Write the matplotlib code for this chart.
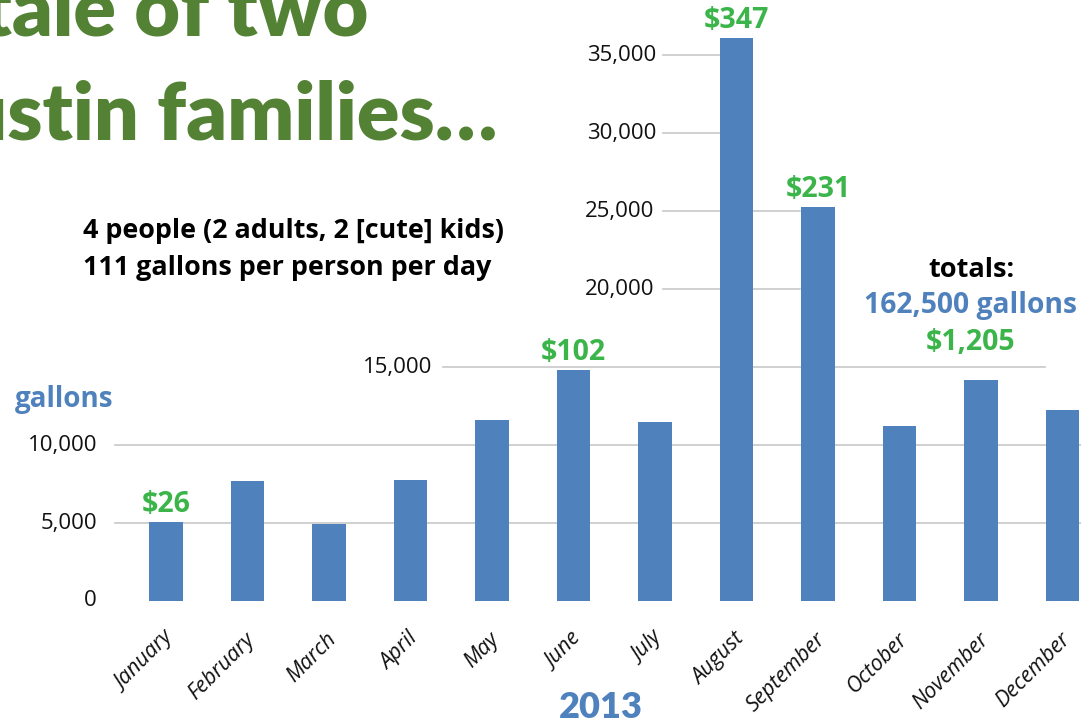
import matplotlib
matplotlib.use('Agg')
import matplotlib.pyplot as plt
import matplotlib.transforms as mtransforms

# Monthly water use, 2013
months = ['January', 'February', 'March', 'April', 'May', 'June',
          'July', 'August', 'September', 'October', 'November', 'December']
gallons = [5050, 7700, 4950, 7750, 11600, 14800, 11450, 36100, 25250, 11200, 14150, 12250]
cost_labels = {0: '$26', 5: '$102', 7: '$347', 8: '$231'}
y_ticks = [0, 5000, 10000, 15000, 20000, 25000, 30000, 35000]

W, H = 1081, 726
BLUE = '#4f81bd'
GREEN = '#3bb54a'
TITLE_GREEN = '#548235'
BOLD = dict(family='Open Sans', fontweight='bold')

fig = plt.figure(figsize=(W / 100, H / 100), dpi=100)
ax = fig.add_axes([0, (H - 601) / H, 1, 601 / H])

step = 81.5
ax.set_xlim(-166 / step, (W - 166) / step)
ax.set_ylim(0, 601 / 546 * 35000)
for s in ax.spines.values():
    s.set_visible(False)
ax.set_yticks([])

ax.bar(range(len(months)), gallons, width=0.405, color=BLUE, zorder=2)

ax.set_xticks(range(len(months)))
ax.set_xticklabels(months, rotation=45, ha='right', rotation_mode='anchor',
                   fontsize=15.5, family='Open Sans', style='italic', color='#111111')
ax.tick_params(axis='x', length=0, pad=20)
for lbl in ax.get_xticklabels():
    lbl.set_transform(lbl.get_transform() + mtransforms.ScaledTranslation(-0.03, 0, fig.dpi_scale_trans))

# gridlines only where the slide left them visible (pixel extents)
mixed = mtransforms.blended_transform_factory(fig.transFigure, ax.transData)
grid_span = {5000: (115, W), 10000: (115, W), 15000: (443, 1045),
             20000: (663, 800), 25000: (663, 800), 30000: (663, 730), 35000: (663, 730)}
for v, (x0, x1) in grid_span.items():
    ax.plot([x0 / W, x1 / W], [v, v], transform=mixed, color='#c8c8c8', lw=1.2, zorder=1)

label_x = {0: 97, 5000: 97, 10000: 97, 15000: 432, 20000: 654, 25000: 654, 30000: 656, 35000: 656}
for v in y_ticks:
    ax.text(label_x[v] / W, v, f'{v:,}', transform=mixed, ha='right', va='center',
            fontsize=16, family='Open Sans', color='#111111')

for i, txt in cost_labels.items():
    ax.annotate(txt, xy=(i, gallons[i]), xytext=(0, 3), textcoords='offset pixels',
                ha='center', va='bottom', fontsize=20.5, color=GREEN, **BOLD)

def ftext(px, py, s, **kw):
    fig.text(px / W, 1 - py / H, s, **kw)

ftext(368, 35, 'A tale of two', ha='right', va='baseline', fontsize=57,
      family='Lato', fontweight='heavy', color=TITLE_GREEN)
ftext(497, 140, 'Austin families…', ha='right', va='baseline', fontsize=57,
      family='Lato', fontweight='heavy', color=TITLE_GREEN)

ftext(83, 231, '4 people (2 adults, 2 [cute] kids)', ha='left', va='center',
      fontsize=19.4, color='black', **BOLD)
ftext(83, 268, '111 gallons per person per day', ha='left', va='center',
      fontsize=19.4, color='black', **BOLD)
ftext(15, 400, 'gallons', ha='left', va='center', fontsize=20, color=BLUE, **BOLD)

ftext(971, 270, 'totals:', ha='center', va='center', fontsize=19.5, color='black', **BOLD)
ftext(971, 306, '162,500 gallons', ha='center', va='center', fontsize=20.3, color=BLUE, **BOLD)
ftext(971, 342, '$1,205', ha='center', va='center', fontsize=20.5, color=GREEN, **BOLD)

ftext(601, 707, '2013', ha='center', va='center', fontsize=26,
      family='Lato', fontweight='heavy', color=BLUE)

fig.savefig('out.png', dpi=100)
